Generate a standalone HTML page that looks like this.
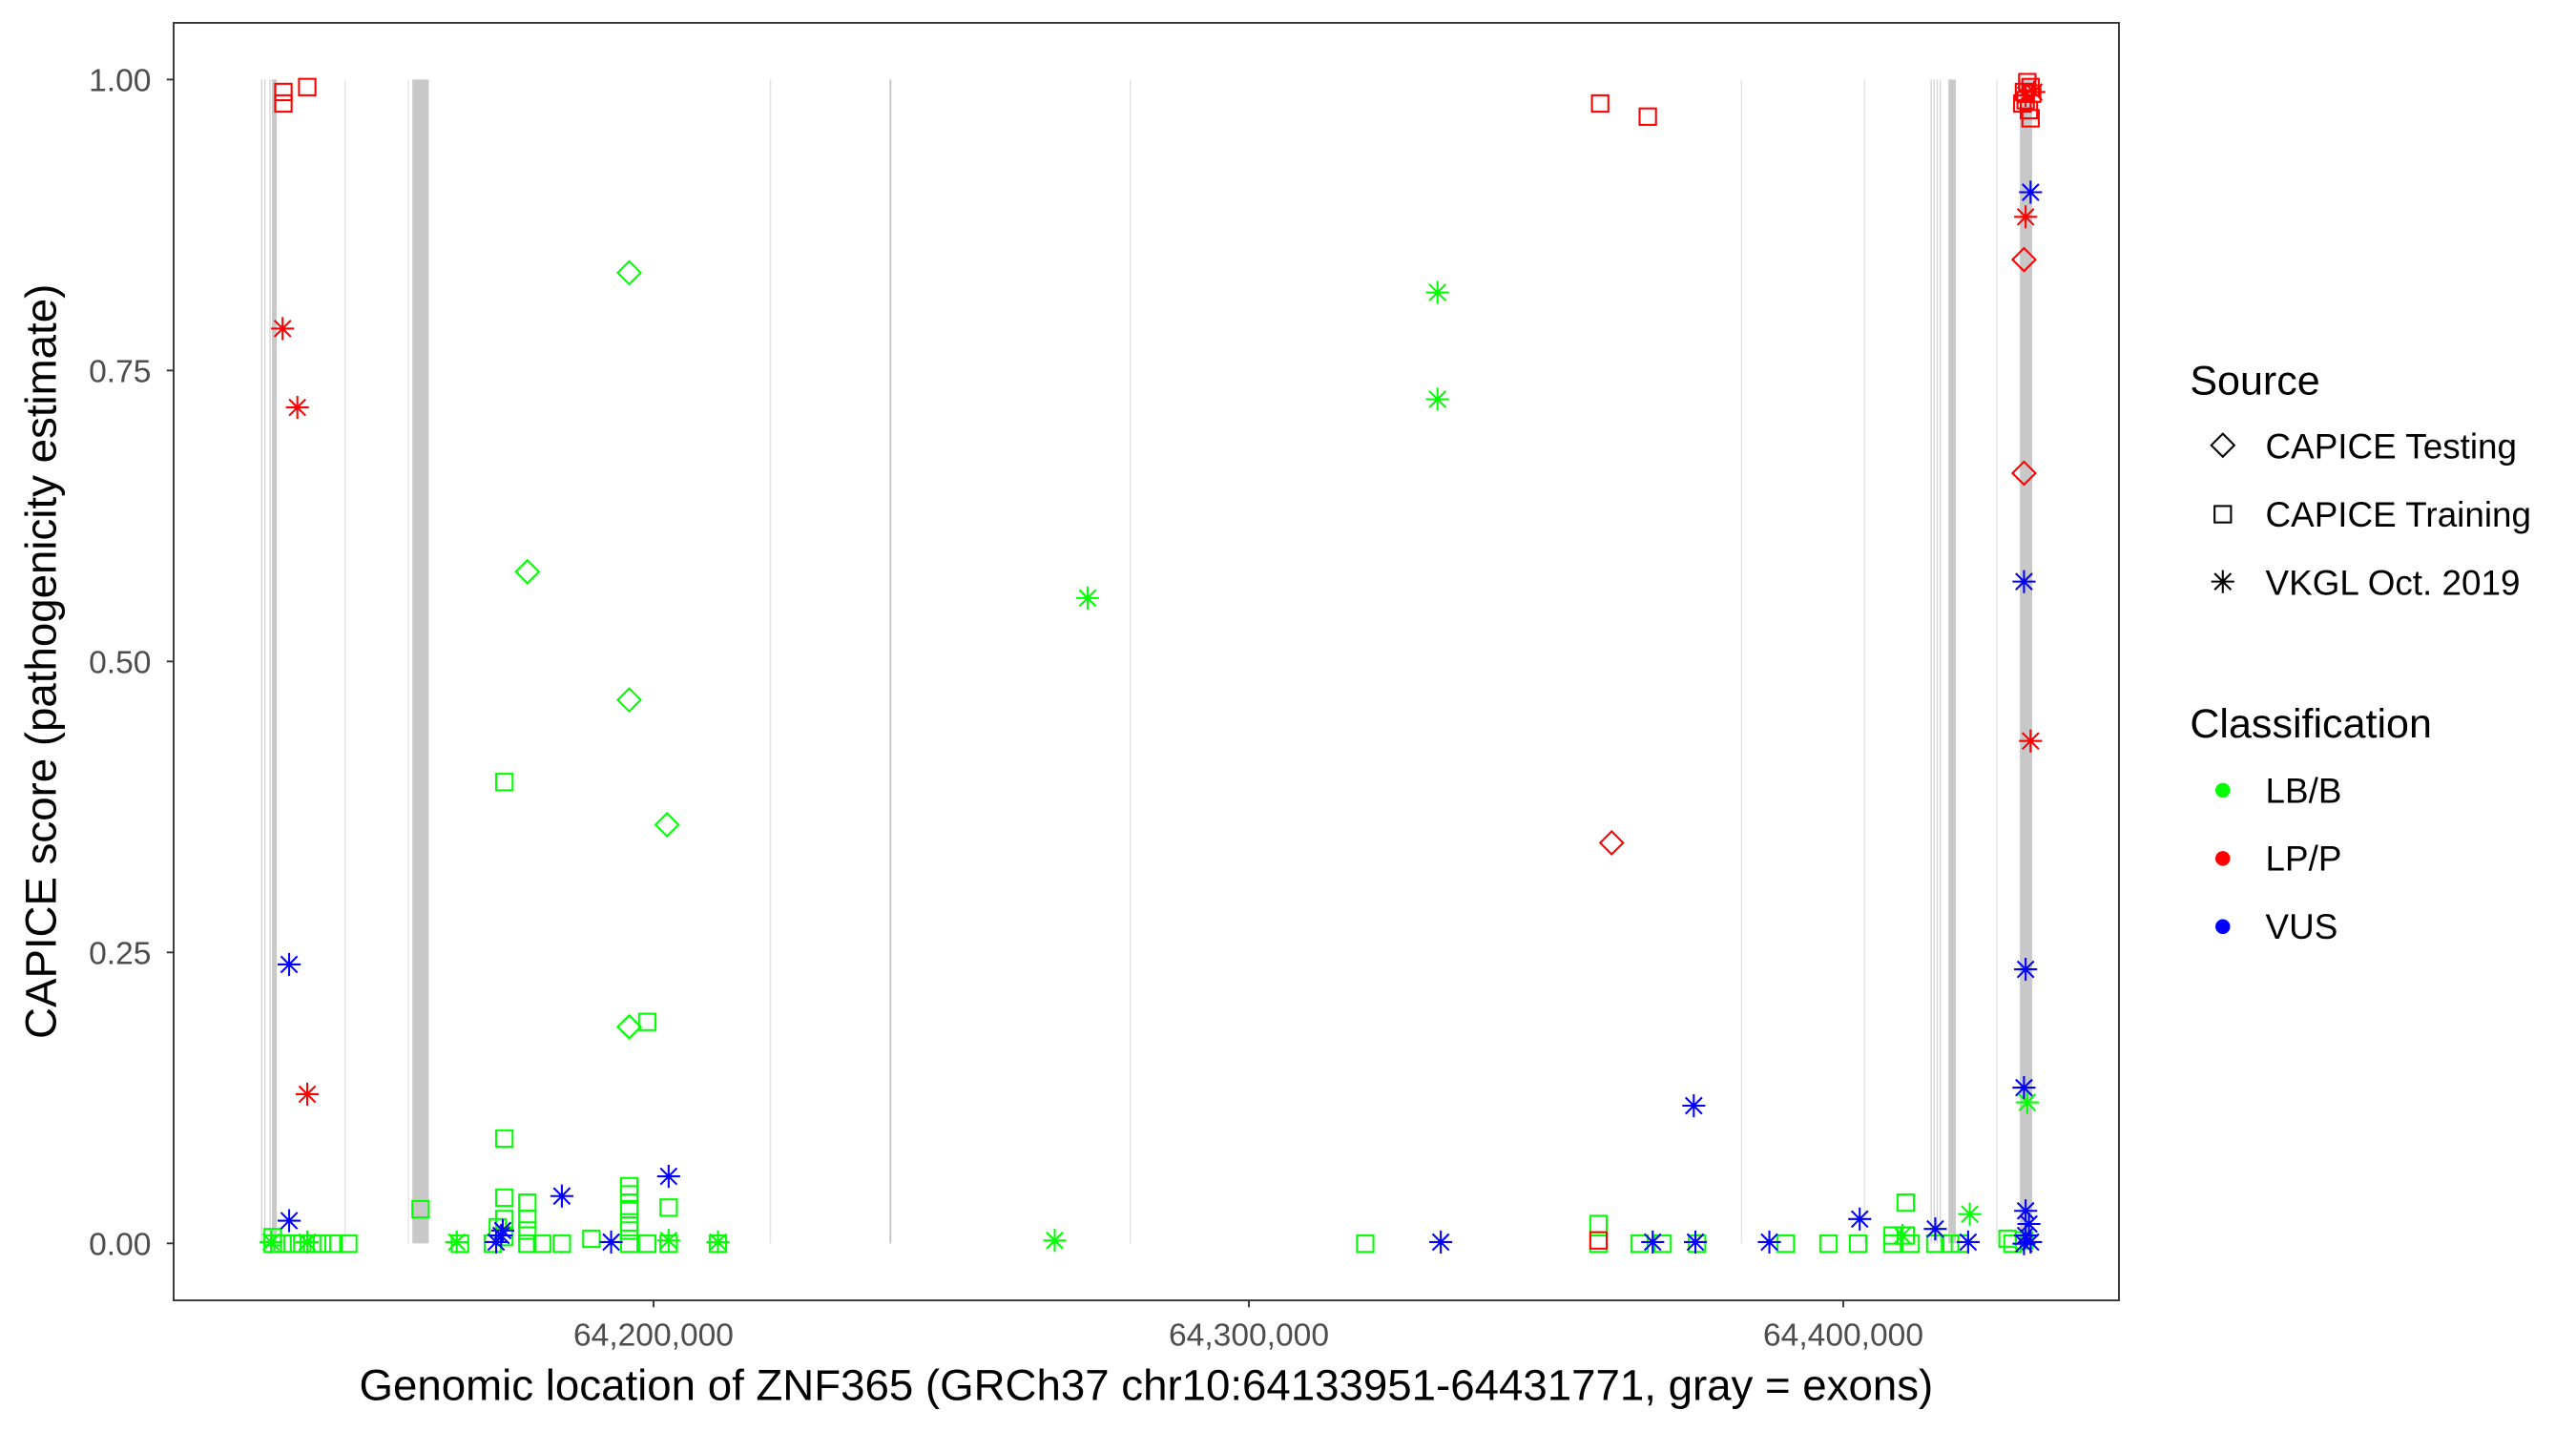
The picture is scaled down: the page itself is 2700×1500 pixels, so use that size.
<!DOCTYPE html>
<html><head><meta charset="utf-8"><style>html,body{margin:0;padding:0;background:#fff}svg{display:block}</style></head>
<body>
<svg xmlns="http://www.w3.org/2000/svg" xmlns:xlink="http://www.w3.org/1999/xlink" width="2700" height="1500" viewBox="0 0 1568 871" preserveAspectRatio="none" font-family="Liberation Sans, Arial, sans-serif">
<defs>
<rect id="sq" x="-5" y="-5" width="10" height="10" fill="none"/>
<path id="di" d="M0,-7L7,0L0,7L-7,0Z" fill="none"/>
<path id="as" d="M-7,0H7M0,-7V7M-5,-5L5,5M-5,5L5,-5" fill="none"/>
</defs>
<rect width="1568" height="871" fill="#fff"/>
<g stroke="#d4d4d4" stroke-width="0.8">
<line x1="159.3" y1="48.4" x2="159.3" y2="756.8"/>
<line x1="161.2" y1="48.4" x2="161.2" y2="756.8"/>
<line x1="164.4" y1="48.4" x2="164.4" y2="756.8"/>
<line x1="210" y1="48.4" x2="210" y2="756.8" stroke="#e3e3e3"/>
<line x1="248.6" y1="48.4" x2="248.6" y2="756.8" stroke="#e3e3e3"/>
<line x1="469" y1="48.4" x2="469" y2="756.8" stroke="#e3e3e3"/>
<line x1="542" y1="48.4" x2="542" y2="756.8" stroke="#c4c4c4" stroke-width="1.1"/>
<line x1="688" y1="48.4" x2="688" y2="756.8" stroke="#e3e3e3"/>
<line x1="1060" y1="48.4" x2="1060" y2="756.8" stroke="#e3e3e3"/>
<line x1="1135" y1="48.4" x2="1135" y2="756.8" stroke="#e3e3e3"/>
<line x1="1175.5" y1="48.4" x2="1175.5" y2="756.8"/>
<line x1="1177.3" y1="48.4" x2="1177.3" y2="756.8"/>
<line x1="1179.2" y1="48.4" x2="1179.2" y2="756.8"/>
<line x1="1181" y1="48.4" x2="1181" y2="756.8"/>
<line x1="1215.5" y1="48.4" x2="1215.5" y2="756.8" stroke="#e3e3e3"/>
</g>
<g fill="#c8c8c8">
<rect x="165.5" y="48.4" width="3" height="708.4"/>
<rect x="251" y="48.4" width="10" height="708.4"/>
<rect x="1186" y="48.4" width="4.5" height="708.4"/>
<rect x="1229.5" y="48.4" width="7.5" height="708.4"/>
</g>
<g stroke-width="1.2">
<g stroke="#00ff00">
<use xlink:href="#sq" x="307" y="476"/><use xlink:href="#sq" x="394" y="622"/><use xlink:href="#sq" x="307" y="693"/><use xlink:href="#sq" x="256" y="736"/>
<use xlink:href="#sq" x="307" y="729"/><use xlink:href="#sq" x="321" y="732"/><use xlink:href="#sq" x="321" y="742"/><use xlink:href="#sq" x="321" y="749"/>
<use xlink:href="#sq" x="307" y="742"/><use xlink:href="#sq" x="303" y="747"/><use xlink:href="#sq" x="307" y="753"/><use xlink:href="#sq" x="383" y="722"/>
<use xlink:href="#sq" x="383" y="727"/><use xlink:href="#sq" x="383" y="736"/><use xlink:href="#sq" x="383" y="744"/><use xlink:href="#sq" x="383" y="749"/>
<use xlink:href="#sq" x="407" y="735"/><use xlink:href="#sq" x="360" y="754"/><use xlink:href="#sq" x="166" y="753"/><use xlink:href="#sq" x="166" y="757"/>
<use xlink:href="#sq" x="172" y="757"/><use xlink:href="#sq" x="178" y="757"/><use xlink:href="#sq" x="184" y="757"/><use xlink:href="#sq" x="190" y="757"/>
<use xlink:href="#sq" x="196" y="757"/><use xlink:href="#sq" x="203" y="757"/><use xlink:href="#sq" x="212" y="757"/><use xlink:href="#sq" x="280" y="757"/>
<use xlink:href="#sq" x="300" y="757"/><use xlink:href="#sq" x="321" y="757"/><use xlink:href="#sq" x="330" y="757"/><use xlink:href="#sq" x="342" y="757"/>
<use xlink:href="#sq" x="383" y="757"/><use xlink:href="#sq" x="394" y="757"/><use xlink:href="#sq" x="407" y="757"/><use xlink:href="#sq" x="437" y="757"/>
<use xlink:href="#sq" x="831" y="757"/><use xlink:href="#sq" x="973" y="745"/><use xlink:href="#sq" x="973" y="757"/><use xlink:href="#sq" x="998" y="757"/>
<use xlink:href="#sq" x="1012" y="757"/><use xlink:href="#sq" x="1033" y="757"/><use xlink:href="#sq" x="1113" y="757"/><use xlink:href="#sq" x="1131" y="757"/>
<use xlink:href="#sq" x="1087" y="757"/><use xlink:href="#sq" x="1152" y="752"/><use xlink:href="#sq" x="1152" y="757"/><use xlink:href="#sq" x="1160" y="732"/>
<use xlink:href="#sq" x="1160" y="752"/><use xlink:href="#sq" x="1163" y="757"/><use xlink:href="#sq" x="1178" y="757"/><use xlink:href="#sq" x="1187" y="757"/>
<use xlink:href="#sq" x="1193" y="757"/><use xlink:href="#sq" x="1222" y="754"/><use xlink:href="#sq" x="1225" y="757"/><use xlink:href="#sq" x="1232" y="755"/>
<use xlink:href="#di" x="383" y="166"/><use xlink:href="#di" x="321" y="348"/><use xlink:href="#di" x="383" y="426"/><use xlink:href="#di" x="406" y="502"/><use xlink:href="#di" x="383" y="625"/>
<use xlink:href="#as" x="875" y="178"/><use xlink:href="#as" x="875" y="243"/><use xlink:href="#as" x="662" y="364"/><use xlink:href="#as" x="642" y="755"/>
<use xlink:href="#as" x="278" y="756"/><use xlink:href="#as" x="1234" y="671"/><use xlink:href="#as" x="1199" y="739"/><use xlink:href="#as" x="187" y="756"/>
<use xlink:href="#as" x="165" y="756"/><use xlink:href="#as" x="407" y="755"/><use xlink:href="#as" x="437" y="756"/><use xlink:href="#as" x="1158" y="752"/>
</g>
<g stroke="#ff0000">
<use xlink:href="#sq" x="172.5" y="56"/><use xlink:href="#sq" x="172.5" y="63"/><use xlink:href="#sq" x="187" y="53"/>
<use xlink:href="#sq" x="974" y="63"/><use xlink:href="#sq" x="1003" y="71"/><use xlink:href="#sq" x="973" y="755"/>
<use xlink:href="#sq" x="1234" y="50"/><use xlink:href="#sq" x="1236" y="53"/><use xlink:href="#sq" x="1232" y="56"/><use xlink:href="#sq" x="1237" y="57"/>
<use xlink:href="#sq" x="1233" y="61"/><use xlink:href="#sq" x="1231" y="63"/><use xlink:href="#sq" x="1235" y="67"/><use xlink:href="#sq" x="1236" y="72"/>
<use xlink:href="#as" x="1233" y="58"/><use xlink:href="#as" x="1238" y="56"/>
<use xlink:href="#as" x="172" y="200"/><use xlink:href="#as" x="181" y="248"/><use xlink:href="#as" x="187" y="666"/><use xlink:href="#as" x="1233" y="132"/><use xlink:href="#as" x="1236" y="451"/>
<use xlink:href="#di" x="1232" y="158"/><use xlink:href="#di" x="1232" y="288"/><use xlink:href="#di" x="981" y="513"/>
</g>
<g stroke="#0000ff">
<use xlink:href="#as" x="176" y="587"/><use xlink:href="#as" x="176" y="743"/><use xlink:href="#as" x="342" y="728"/><use xlink:href="#as" x="407" y="716"/>
<use xlink:href="#as" x="372" y="756"/><use xlink:href="#as" x="302" y="756"/><use xlink:href="#as" x="305" y="752"/><use xlink:href="#as" x="306" y="749"/>
<use xlink:href="#as" x="877" y="756"/><use xlink:href="#as" x="1006" y="756"/><use xlink:href="#as" x="1031" y="673"/><use xlink:href="#as" x="1032" y="756"/>
<use xlink:href="#as" x="1077" y="756"/><use xlink:href="#as" x="1132" y="742"/><use xlink:href="#as" x="1178" y="748"/><use xlink:href="#as" x="1198" y="756"/>
<use xlink:href="#as" x="1236" y="117"/><use xlink:href="#as" x="1232" y="354"/><use xlink:href="#as" x="1233" y="590"/><use xlink:href="#as" x="1232" y="662"/>
<use xlink:href="#as" x="1233" y="737"/><use xlink:href="#as" x="1233" y="752"/><use xlink:href="#as" x="1236" y="756"/><use xlink:href="#as" x="1232" y="757"/><use xlink:href="#as" x="1235" y="745"/>
</g>
</g>
<rect x="105.7" y="13.9" width="1184.1" height="777.6" fill="none" stroke="#333" stroke-width="1.1"/>
<g stroke="#333" stroke-width="1.1">
<line x1="101.5" y1="48.4" x2="105.7" y2="48.4"/><line x1="101.5" y1="225.5" x2="105.7" y2="225.5"/>
<line x1="101.5" y1="402.6" x2="105.7" y2="402.6"/><line x1="101.5" y1="579.7" x2="105.7" y2="579.7"/>
<line x1="101.5" y1="756.8" x2="105.7" y2="756.8"/>
<line x1="397.8" y1="791.5" x2="397.8" y2="795.7"/><line x1="760.2" y1="791.5" x2="760.2" y2="795.7"/><line x1="1122" y1="791.5" x2="1122" y2="795.7"/>
</g>
<g fill="#4d4d4d" font-size="19.5" text-anchor="end">
<text x="92" y="55.4">1.00</text><text x="92" y="232.5">0.75</text><text x="92" y="409.6">0.50</text><text x="92" y="586.7">0.25</text><text x="92" y="763.8">0.00</text>
</g>
<g fill="#4d4d4d" font-size="19.5" text-anchor="middle">
<text x="397.8" y="819">64,200,000</text><text x="760.2" y="819">64,300,000</text><text x="1122" y="819">64,400,000</text>
</g>
<text x="697.7" y="852" font-size="26.5" text-anchor="middle" fill="#000">Genomic location of ZNF365 (GRCh37 chr10:64133951-64431771, gray = exons)</text>
<text transform="translate(34,402.6) rotate(-90)" font-size="26.5" text-anchor="middle" fill="#000">CAPICE score (pathogenicity estimate)</text>
<text x="1333" y="240" font-size="25" fill="#000">Source</text>
<g font-size="21.4" fill="#000">
<text x="1379" y="279">CAPICE Testing</text><text x="1379" y="320.5">CAPICE Training</text><text x="1379" y="362">VKGL Oct. 2019</text>
</g>
<g stroke="#000" stroke-width="1.2">
<use xlink:href="#di" x="1353" y="271"/><use xlink:href="#sq" x="1353" y="313"/><use xlink:href="#as" x="1353" y="354"/>
</g>
<text x="1333" y="449" font-size="25" fill="#000">Classification</text>
<g font-size="21.4" fill="#000">
<text x="1379" y="488.5">LB/B</text><text x="1379" y="530">LP/P</text><text x="1379" y="571.5">VUS</text>
</g>
<circle cx="1353" cy="481" r="4.5" fill="#00ff00"/>
<circle cx="1353" cy="522.5" r="4.5" fill="#ff0000"/>
<circle cx="1353" cy="564" r="4.5" fill="#0000ff"/>
</svg>
</body></html>
